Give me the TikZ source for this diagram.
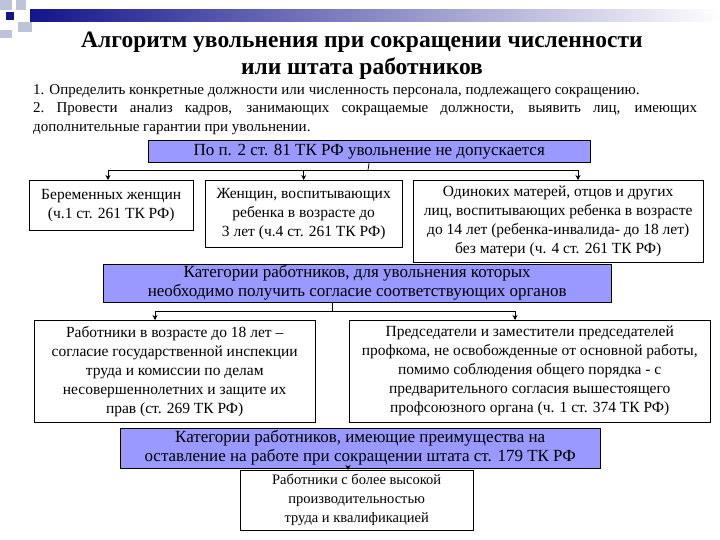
\documentclass[tikz,border=0pt]{standalone}
\usepackage{fontspec}
\setmainfont{Liberation Serif}
\usetikzlibrary{arrows.meta}
\begin{document}
\begin{tikzpicture}[x=1pt,y=-1pt,
  bluebox/.style={draw=black,fill=boxblue,inner sep=0pt,align=center,font=\fontsize{17}{19}\selectfont},
  whitebox/.style={draw=black,fill=white,inner sep=0pt,align=center,font=\fontsize{15.5}{19}\selectfont},
  conn/.style={draw=black,thick,-{Stealth[length=5pt,width=5pt]}},
  line/.style={draw=black,thick}]
\definecolor{boxblue}{RGB}{153,153,255}
\definecolor{deco}{RGB}{190,195,220}
\definecolor{darkb}{RGB}{20,20,140}
\useasboundingbox (0,0) rectangle (720,540);
\fill[white] (0,0) rectangle (720,540);
% decoration
\fill[deco] (0,0) rectangle (12,10);
\fill[deco] (16,0) rectangle (26,10);
\fill[deco] (0,30) rectangle (12,38);
\fill[deco] (18,22) rectangle (32,32);
\fill[left color=darkb,right color=white] (30,10) rectangle (720,22);
\fill[darkb] (6,12) rectangle (14,20);
% title
\node[font=\fontsize{23.5}{27}\selectfont\bfseries,align=center] (title) at (362,56) {Алгоритм увольнения при сокращении численности\\или штата работников};
\node[font=\fontsize{15}{18.5}\selectfont,text width=664pt,align=justify,inner sep=0pt,anchor=north west] (para) at (33,84) {1. Определить конкретные должности или численность персонала, подлежащего сокращению.\\ 2.~Провести анализ кадров, занимающих сокращаемые должности, выявить лиц, имеющих дополнительные гарантии при увольнении.};
% first block
\node[bluebox,minimum width=442pt,minimum height=22pt,anchor=north west] (b1) at (148,140) {По п. 2 ст. 81 ТК РФ увольнение не допускается};
\node[whitebox,minimum width=164pt,minimum height=50pt,anchor=north west] (w1) at (29,180) {Беременных женщин\\(ч.1 ст. 261 ТК РФ)};
\node[whitebox,minimum width=197pt,minimum height=67pt,anchor=north west] (w2) at (205,180) {Женщин, воспитывающих\\ребенка в возрасте  до\\3 лет (ч.4 ст. 261 ТК РФ)};
\node[whitebox,minimum width=290pt,minimum height=82pt,anchor=north west] (w3) at (413,180) {Одиноких матерей, отцов и других\\лиц, воспитывающих ребенка в возрасте\\до 14 лет (ребенка-инвалида- до 18 лет)\\без матери (ч. 4 ст. 261 ТК РФ)};
\coordinate (j1) at (368,170);
\coordinate (j1l) at (108,170);
\coordinate (j1r) at (578,170);
\draw[line] (b1.south) -- (j1);
\draw[line] (j1l) -- (j1r);
\draw[conn] (j1l) -- (w1.north -| j1l);
\draw[conn] (j1 -| w2.north) -- (w2.north);
\draw[conn] (j1r) -- (w3.north -| j1r);
% second block
\node[bluebox,minimum width=508pt,minimum height=38pt,anchor=north west] (b2) at (103,264) {Категории работников, для увольнения которых\\необходимо получить согласие соответствующих органов};
\node[whitebox,minimum width=281pt,minimum height=102pt,anchor=north west] (w4) at (34,320) {Работники в возрасте до 18 лет –\\согласие государственной инспекции\\труда и комиссии по делам\\несовершеннолетних и защите их\\прав (ст. 269 ТК РФ)};
\node[whitebox,minimum width=361pt,minimum height=102pt,anchor=north west] (w5) at (349,320) {Председатели и заместители председателей\\профкома, не освобожденные от основной работы,\\помимо соблюдения общего порядка - с\\предварительного согласия вышестоящего\\профсоюзного органа (ч. 1 ст. 374 ТК РФ)};
\coordinate (j2) at (332,311);
\coordinate (j2l) at (155,311);
\coordinate (j2r) at (515,311);
\draw[line] (b2.south -| j2) -- (j2);
\draw[line] (j2l) -- (j2r);
\draw[conn] (j2l) -- (w4.north -| j2l);
\draw[conn] (j2r) -- (w5.north -| j2r);
% third block
\node[bluebox,minimum width=480pt,minimum height=40pt,anchor=north west] (b3) at (120,428) {Категории работников, имеющие преимущества на\\оставление на работе при сокращении штата ст. 179 ТК РФ};
\node[whitebox,minimum width=233pt,minimum height=60pt,anchor=north west,font=\fontsize{14.5}{19}\selectfont] (w6) at (240,470) {Работники с более высокой\\производительностью\\труда и квалификацией};
\coordinate (a3) at (348,0);
\draw[conn] (b3.south -| a3) -- (w6.north -| a3);
\end{tikzpicture}
\end{document}
